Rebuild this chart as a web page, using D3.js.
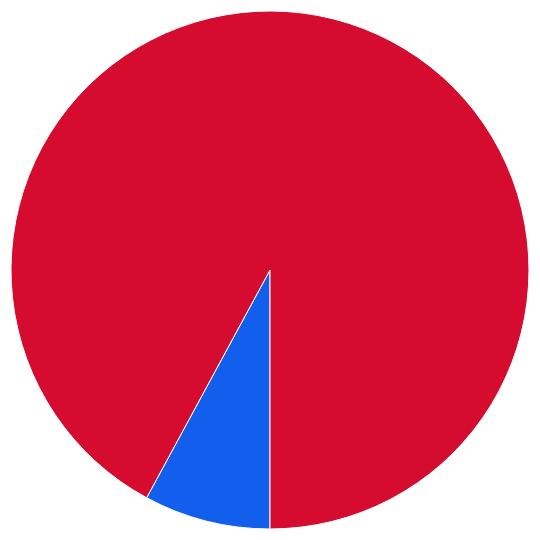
<!DOCTYPE html>
<html>
<head>
<meta charset="utf-8">
<script src="https://cdn.jsdelivr.net/npm/d3@7"></script>
<style>
  body { margin: 0; background: #fff; }
</style>
</head>
<body>
<script>
// slice data
var categories = ["B", "A"];
var values = [7.9, 92.1];
var colors = ["#125fee", "#d50c2f"];

var width = 540, height = 540;
var radius = 259;

var svg = d3.select("body").append("svg")
    .attr("width", width)
    .attr("height", height)
    .append("g")
    .attr("transform", "translate(" + width / 2 + "," + height / 2 + ")");

var color = d3.scaleOrdinal().domain(categories).range(colors);

// start at 6 o'clock so the small slice sits just left of bottom
var pie = d3.pie()
    .sort(null)
    .startAngle(Math.PI)
    .endAngle(3 * Math.PI)
    .value(function(d, i) { return values[i]; });

var arc = d3.arc().innerRadius(0).outerRadius(radius);

svg.selectAll("path")
    .data(pie(categories))
    .enter()
    .append("path")
    .attr("d", arc)
    .attr("fill", function(d) { return color(d.data); })
    .attr("stroke", "#fff")
    .attr("stroke-width", 1);
</script>
</body>
</html>
